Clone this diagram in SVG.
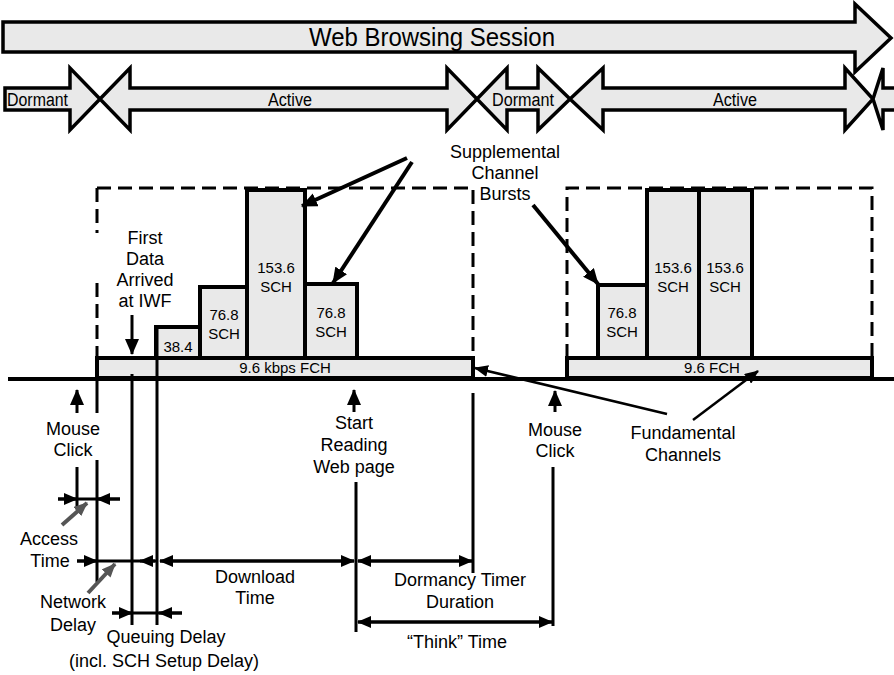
<svg xmlns="http://www.w3.org/2000/svg" width="894" height="675" viewBox="0 0 894 675">
<defs>
<style>
text{font-family:"Liberation Sans",Arial,sans-serif;fill:#000;text-anchor:middle}
.lbl{font-size:18px}
.bl{font-size:15px}
.ph{font-size:18px}
.shape{fill:#e9e9e9;stroke:#000;stroke-width:3.5;stroke-linejoin:miter}
.bar{fill:#e9e9e9;stroke:#000;stroke-width:4}
.dash{fill:none;stroke:#000;stroke-width:3;stroke-dasharray:14 7}
.v{stroke:#000;stroke-width:3;fill:none}
.dim{stroke:#000;stroke-width:3;fill:none}
.ptr{stroke:#000;stroke-width:4;fill:none}
.gptr{stroke:#555;stroke-width:4;fill:none}
.thin{stroke:#000;stroke-width:2.5;fill:none}
</style>
<marker id="ah" markerUnits="userSpaceOnUse" markerWidth="14" markerHeight="12" refX="13" refY="6" orient="auto">
<path d="M0,0 L14,6 L0,12 z" fill="#000"/>
</marker>
<marker id="bh" markerUnits="userSpaceOnUse" markerWidth="16" markerHeight="14" refX="15" refY="7" orient="auto">
<path d="M0,0 L16,7 L0,14 z" fill="#000"/>
</marker>
<marker id="gh" markerUnits="userSpaceOnUse" markerWidth="14" markerHeight="12" refX="13" refY="6" orient="auto">
<path d="M0,0 L14,6 L0,12 z" fill="#555"/>
</marker>
</defs>
<rect width="894" height="675" fill="#fff"/>

<g id="session">
<polygon class="shape" points="3,22 855,22 855,4 891,38 855,72 855,52 3,52"/>
<text x="432" y="46" style="font-size:26px" textLength="246" lengthAdjust="spacingAndGlyphs">Web Browsing Session</text>
</g>

<g id="dormant1">
<polygon class="shape" points="5,88 70,88 70,68 100,99 70,130 70,110 5,110"/>
<text class="ph" x="7" y="106" style="text-anchor:start" textLength="61" lengthAdjust="spacingAndGlyphs">Dormant</text>
</g>
<g id="active1">
<polygon class="shape" points="100,99 130,68 130,88 447,88 447,68 477,99 447,130 447,110 130,110 130,130"/>
<text class="ph" x="268" y="106" style="text-anchor:start" textLength="44" lengthAdjust="spacingAndGlyphs">Active</text>
</g>
<g id="dormant2">
<polygon class="shape" points="477,99 507,68 507,88 538,88 538,68 570,99 538,130 538,110 507,110 507,130"/>
<text class="ph" x="492" y="106" style="text-anchor:start" textLength="62" lengthAdjust="spacingAndGlyphs">Dormant</text>
</g>
<g id="active2">
<polygon class="shape" points="570,99 603,68 603,88 845,88 845,68 873,99 845,130 845,110 603,110 603,130"/>
<text class="ph" x="713" y="106" style="text-anchor:start" textLength="44" lengthAdjust="spacingAndGlyphs">Active</text>
</g>
<g id="next">
<polygon class="shape" points="873,99 883,68 883,88 897,88 897,110 883,110 883,130"/>
</g>

<g id="burst1-box">
<path class="dash" d="M97,188 H473 V358 M97,188 V233 M97,283 V358"/>
</g>
<g id="burst2-box">
<path class="dash" d="M567,358 V188 H872 V358"/>
</g>

<g id="timeline">
<line x1="8" y1="379" x2="894" y2="379" stroke="#000" stroke-width="4"/>
</g>

<g id="fch1">
<rect class="bar" x="97" y="358" width="376" height="20"/>
<text class="bl" x="285" y="373">9.6 kbps FCH</text>
</g>
<g id="fch2">
<rect class="bar" x="567" y="358" width="305" height="20"/>
<text class="bl" x="712" y="373">9.6 FCH</text>
</g>

<g id="sch-38-4">
<rect class="bar" x="156" y="327" width="44" height="31"/>
<text class="bl" x="178" y="352">38.4</text>
</g>
<g id="sch-76-8-a">
<rect class="bar" x="200" y="287" width="47" height="71"/>
<text class="bl" x="224" y="320">76.8</text>
<text class="bl" x="224" y="339">SCH</text>
</g>
<g id="sch-153-6-a">
<rect class="bar" x="247" y="190" width="58" height="168"/>
<text class="bl" x="276" y="273">153.6</text>
<text class="bl" x="276" y="292">SCH</text>
</g>
<g id="sch-76-8-b">
<rect class="bar" x="305" y="284" width="52" height="74"/>
<text class="bl" x="331" y="318">76.8</text>
<text class="bl" x="331" y="337">SCH</text>
</g>
<g id="sch-76-8-c">
<rect class="bar" x="598" y="285" width="49" height="73"/>
<text class="bl" x="622" y="318">76.8</text>
<text class="bl" x="622" y="337">SCH</text>
</g>
<g id="sch-153-6-b">
<rect class="bar" x="647" y="190" width="52" height="168"/>
<text class="bl" x="673" y="273">153.6</text>
<text class="bl" x="673" y="292">SCH</text>
</g>
<g id="sch-153-6-c">
<rect class="bar" x="699" y="190" width="53" height="168"/>
<text class="bl" x="725" y="273">153.6</text>
<text class="bl" x="725" y="292">SCH</text>
</g>

<g id="label-supplemental">
<text class="lbl" x="505" y="158">Supplemental</text>
<text class="lbl" x="505" y="179">Channel</text>
<text class="lbl" x="505" y="200">Bursts</text>
</g>
<g id="label-first-data">
<text class="lbl" x="145" y="244">First</text>
<text class="lbl" x="145" y="265">Data</text>
<text class="lbl" x="145" y="286">Arrived</text>
<text class="lbl" x="145" y="307">at IWF</text>
</g>
<g id="label-mouse1">
<text class="lbl" x="73" y="435">Mouse</text>
<text class="lbl" x="73" y="456">Click</text>
</g>
<g id="label-start">
<text class="lbl" x="354" y="429">Start</text>
<text class="lbl" x="354" y="451">Reading</text>
<text class="lbl" x="354" y="473">Web page</text>
</g>
<g id="label-mouse2">
<text class="lbl" x="555" y="436">Mouse</text>
<text class="lbl" x="555" y="457">Click</text>
</g>
<g id="label-fundamental">
<text class="lbl" x="683" y="439">Fundamental</text>
<text class="lbl" x="683" y="461">Channels</text>
</g>
<g id="label-access">
<text class="lbl" x="49" y="545">Access</text>
<text class="lbl" x="50" y="567">Time</text>
</g>
<g id="label-network">
<text class="lbl" x="73" y="608">Network</text>
<text class="lbl" x="73" y="631">Delay</text>
</g>
<g id="label-queuing">
<text class="lbl" x="166" y="643">Queuing Delay</text>
<text class="lbl" x="164" y="667">(incl. SCH Setup Delay)</text>
</g>
<g id="label-download">
<text class="lbl" x="255" y="583">Download</text>
<text class="lbl" x="255" y="604">Time</text>
</g>
<g id="label-dormancy">
<text class="lbl" x="460" y="586">Dormancy Timer</text>
<text class="lbl" x="460" y="608">Duration</text>
</g>
<g id="label-think">
<text class="lbl" x="457" y="648">“Think” Time</text>
</g>

<g id="connectors">
<line class="ptr" x1="407" y1="158" x2="302" y2="206" marker-end="url(#bh)"/>
<line class="ptr" x1="412" y1="162" x2="333" y2="283" marker-end="url(#bh)"/>
<line class="ptr" x1="533" y1="205" x2="598" y2="284" marker-end="url(#bh)"/>
<line class="thin" x1="667" y1="414" x2="475" y2="368" marker-end="url(#ah)"/>
<line class="thin" x1="693" y1="420" x2="758" y2="371" marker-end="url(#ah)"/>
<line class="v" x1="132" y1="315" x2="132" y2="354" marker-end="url(#bh)"/>
<line class="v" x1="77" y1="413" x2="77" y2="390" marker-end="url(#bh)"/>
<line class="v" x1="354" y1="412" x2="354" y2="390" marker-end="url(#bh)"/>
<line class="v" x1="555" y1="412" x2="555" y2="391" marker-end="url(#bh)"/>
<path class="v" d="M97,378 V413 M97,460 V582 M77,467 V507 M132,374 V625 M157,327 V625 M356,482 V632 M473,393 V573 M553,467 V626"/>
<line class="dim" x1="58" y1="499" x2="120" y2="499"/>
<line class="dim" x1="58" y1="499" x2="77" y2="499" marker-end="url(#ah)"/>
<line class="dim" x1="120" y1="499" x2="97" y2="499" marker-end="url(#ah)"/>
<line class="dim" x1="77" y1="561" x2="157" y2="561"/>
<line class="dim" x1="77" y1="561" x2="97" y2="561" marker-end="url(#ah)"/>
<line class="dim" x1="155" y1="561" x2="140" y2="561" marker-end="url(#ah)"/>
<line class="dim" x1="354" y1="561" x2="160" y2="561" marker-end="url(#ah)"/>
<line class="dim" x1="160" y1="561" x2="354" y2="561" marker-end="url(#ah)"/>
<line class="dim" x1="472" y1="561" x2="358" y2="561" marker-end="url(#ah)"/>
<line class="dim" x1="358" y1="561" x2="472" y2="561" marker-end="url(#ah)"/>
<line class="dim" x1="112" y1="613" x2="182" y2="613"/>
<line class="dim" x1="112" y1="613" x2="132" y2="613" marker-end="url(#ah)"/>
<line class="dim" x1="182" y1="613" x2="159" y2="613" marker-end="url(#ah)"/>
<line class="dim" x1="552" y1="622" x2="358" y2="622" marker-end="url(#ah)"/>
<line class="dim" x1="358" y1="622" x2="552" y2="622" marker-end="url(#ah)"/>
<line class="gptr" x1="62" y1="525" x2="87" y2="503" marker-end="url(#gh)"/>
<line class="gptr" x1="88" y1="593" x2="115" y2="564" marker-end="url(#gh)"/>
</g>
</svg>
